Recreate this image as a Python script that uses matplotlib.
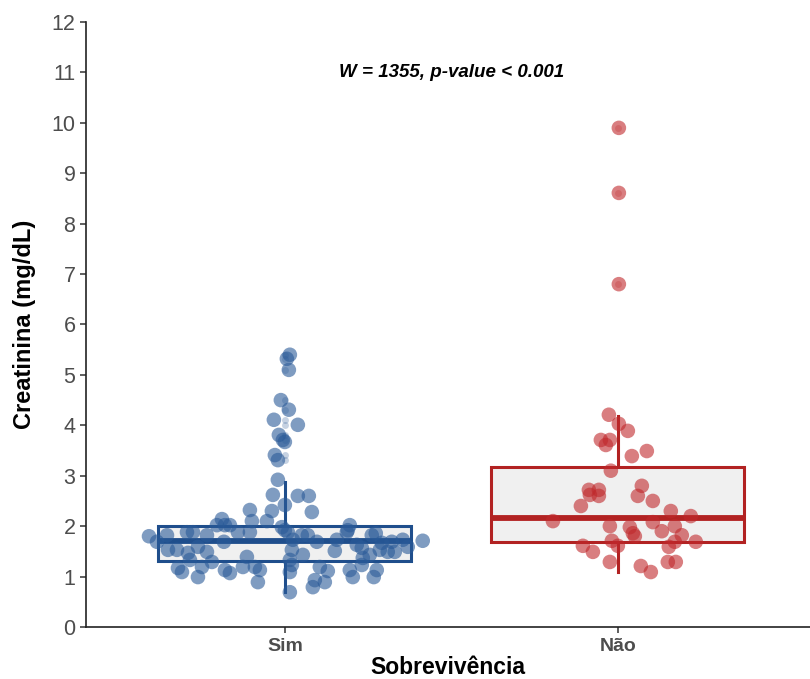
import numpy as np
import matplotlib
matplotlib.use('Agg')
import matplotlib.pyplot as plt

# --- DATA ---
groups = ['Sim', 'Não']

sim_values = [5.40, 5.32, 5.10, 4.50, 4.31, 4.11, 4.01, 3.81, 3.71, 3.67,
              3.41, 3.31, 2.92, 2.62, 2.60, 2.60, 2.42, 2.32, 2.30, 2.28,
              2.10, 2.10, 2.14, 2.02, 2.02, 1.98, 2.02, 1.88, 1.88, 1.88,
              1.86, 1.88, 1.88, 1.80, 1.69, 1.82, 1.82, 1.69, 1.88, 1.82,
              1.82, 1.69, 1.73, 1.63, 1.57, 1.67, 1.69, 1.73, 1.71, 1.59,
              1.49, 1.49, 1.53, 1.43, 1.37, 1.51, 1.53, 1.23, 1.19, 1.11,
              1.13, 0.99, 1.23, 1.13, 0.99, 0.93, 0.79, 0.89, 0.69, 1.73,
              1.43, 1.33, 1.09, 1.53, 1.53, 1.47, 1.59, 1.49, 1.33, 1.19,
              1.29, 1.17, 1.09, 0.99, 1.13, 1.07, 1.39, 1.19, 1.19, 1.13,
              0.89, 1.82, 1.92, 1.92, 2.02]
sim_jitter = [0.015, 0.006, 0.012, -0.012, 0.012, -0.033, 0.039, -0.018, -0.006, 0.0,
              -0.030, -0.021, -0.021, -0.036, 0.039, 0.072, 0.0, -0.105, -0.039, 0.081,
              -0.099, -0.054, -0.189, -0.204, -0.165, -0.009, 0.195, -0.141, -0.105, 0.186,
              0.273, -0.294, -0.276, -0.408, -0.384, -0.354, -0.234, -0.183, 0.009, 0.051,
              0.069, 0.096, 0.156, 0.216, 0.231, 0.291, 0.321, 0.354, 0.414, 0.369,
              0.309, 0.330, 0.285, 0.255, 0.234, 0.150, 0.021, 0.021, 0.105, 0.129,
              0.195, 0.204, 0.231, 0.276, 0.267, 0.090, 0.084, 0.120, 0.015, 0.024,
              0.054, 0.015, 0.015, -0.351, -0.324, -0.291, -0.261, -0.234, -0.285, -0.249,
              -0.219, -0.321, -0.309, -0.261, -0.180, -0.165, -0.114, -0.126, -0.090, -0.075,
              -0.081, 0.261, 0.189, 0.0, -0.180]

nao_values = [4.21, 4.03, 3.89, 3.71, 3.71, 3.61, 3.39, 3.49, 3.10, 2.72,
              2.72, 2.62, 2.60, 2.40, 2.80, 2.60, 2.50, 2.30, 2.20, 2.10,
              2.00, 1.98, 1.86, 1.80, 2.08, 1.90, 2.00, 1.82, 1.69, 1.69,
              1.59, 1.71, 1.61, 1.61, 1.49, 1.29, 1.21, 1.09, 1.29, 1.29,
              9.90, 8.61, 6.80]
nao_jitter = [-0.027, 0.003, 0.030, -0.051, -0.024, -0.036, 0.042, 0.087, -0.021, -0.087,
              -0.057, -0.084, -0.057, -0.111, 0.072, 0.060, 0.105, 0.159, 0.219, -0.195,
              -0.024, 0.036, 0.045, 0.051, 0.105, 0.132, 0.171, 0.192, 0.234, 0.171,
              0.153, -0.018, 0.0, -0.105, -0.075, -0.024, 0.069, 0.099, 0.150, 0.174,
              0.003, 0.003, 0.003]

# box statistics (q1, median, q3, whisker low, whisker high)
q1 = [1.31, 1.69]
medians = [1.71, 2.16]
q3 = [2.01, 3.17]
whisk_lo = [0.70, 1.09]
whisk_hi = [2.88, 4.19]
outliers = [[5.40, 5.32, 5.10, 4.50, 4.31, 4.11, 4.01, 3.81, 3.71, 3.41, 3.31],
            [9.90, 8.61, 6.80]]

stat_text = 'W = 1355, p-value < 0.001'

# --- STYLE ---
line_colors = ['#1f4e8c', '#b22222']
point_colors = ['#2a5a98', '#c0282b']

plt.rcParams['font.family'] = ['Liberation Sans', 'DejaVu Sans']

fig = plt.figure(figsize=(8.1, 6.79), dpi=100)
ax = fig.add_axes([0.106, 0.0766, 0.894, 0.891])

positions = [1, 2]
for i, pos in enumerate(positions):
    stats = [{'med': medians[i], 'q1': q1[i], 'q3': q3[i],
              'whislo': whisk_lo[i], 'whishi': whisk_hi[i],
              'fliers': outliers[i]}]
    ax.bxp(stats, positions=[pos], widths=0.76, patch_artist=True,
           showcaps=False,
           boxprops=dict(facecolor='#f0f0f0', edgecolor=line_colors[i], linewidth=2.2),
           whiskerprops=dict(color=line_colors[i], linewidth=2.2),
           medianprops=dict(color=line_colors[i], linewidth=4.2, solid_capstyle='butt'),
           flierprops=dict(marker='o', markersize=5, markerfacecolor=line_colors[i],
                           markeredgecolor='none', alpha=0.25),
           zorder=2)

# jittered points
ax.scatter(1 + np.array(sim_jitter), sim_values, s=110, color=point_colors[0],
           alpha=0.6, edgecolors='none', zorder=3)
ax.scatter(2 + np.array(nao_jitter), nao_values, s=110, color=point_colors[1],
           alpha=0.6, edgecolors='none', zorder=3)

ax.text(1.5, 11.0, stat_text, ha='center', va='center', fontsize=13.5,
        fontweight='bold', fontstyle='italic', color='black')

ax.set_xlim(0.4024, 2.577)
ax.set_ylim(0, 12)
ax.set_yticks(range(0, 13))
ax.set_xticks(positions)
ax.set_xticklabels(groups, fontsize=14, fontweight='bold', color='#4d4d4d')
ax.tick_params(axis='y', labelsize=15.5, labelcolor='#4d4d4d', length=4, width=1.1, color='#333333')
ax.tick_params(axis='x', length=4, width=1.1, color='#333333', pad=4)

ax.set_xlabel('Sobrevivência', fontsize=16.5, fontweight='bold', labelpad=1)
ax.set_ylabel('Creatinina (mg/dL)', fontsize=17, fontweight='bold', labelpad=11)

for side in ['top', 'right']:
    ax.spines[side].set_visible(False)
for side in ['left', 'bottom']:
    ax.spines[side].set_linewidth(1.2)
    ax.spines[side].set_color('#222222')

fig.savefig('out.png', dpi=100)
